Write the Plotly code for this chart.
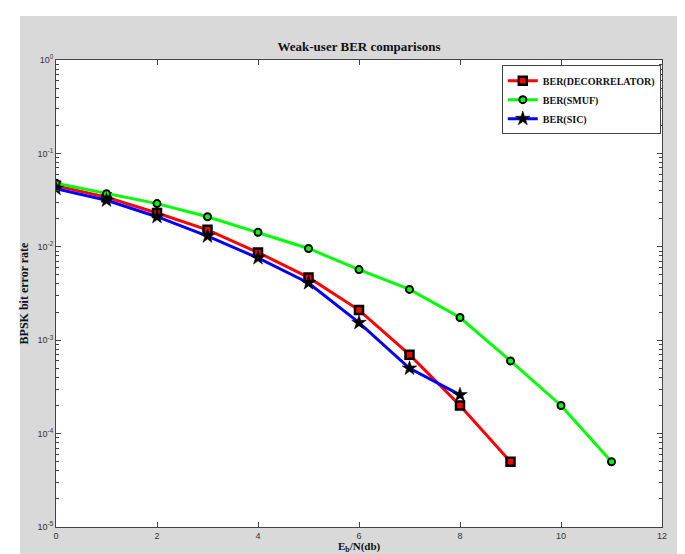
import plotly.graph_objects as go

# ---- data ----
snr_dec = [0, 1, 2, 3, 4, 5, 6, 7, 8, 9]
ber_dec = [0.045, 0.034, 0.023, 0.0152, 0.0087, 0.0047, 0.0021, 0.0007, 0.0002, 0.00005]

snr_smuf = [0, 1, 2, 3, 4, 5, 6, 7, 8, 9, 10, 11]
ber_smuf = [0.048, 0.037, 0.029, 0.021, 0.0143, 0.0096, 0.0057, 0.0035, 0.00175, 0.0006, 0.0002, 0.00005]

snr_sic = [0, 1, 2, 3, 4, 5, 6, 7, 8]
ber_sic = [0.042, 0.0315, 0.021, 0.013, 0.0076, 0.0041, 0.00154, 0.0005, 0.00026]

x_ticks = [0, 2, 4, 6, 8, 10, 12]
y_exps = [-5, -4, -3, -2, -1, 0]
y_ticks = [10.0 ** e for e in y_exps]
y_ticktext = ["10<sup>%d</sup>" % e for e in y_exps]
y_minor = [k * 10.0 ** e for e in range(-5, 0) for k in range(2, 10)]

fig = go.Figure()

fig.add_trace(go.Scatter(
    x=snr_dec, y=ber_dec, mode="lines+markers", name="<b>BER(DECORRELATOR)</b>",
    line=dict(color="#ff0000", width=3),
    marker=dict(symbol="square", size=8, color="#ff0000",
                line=dict(color="black", width=2.5)),
))
fig.add_trace(go.Scatter(
    x=snr_smuf, y=ber_smuf, mode="lines+markers", name="<b>BER(SMUF)</b>",
    line=dict(color="#00ff00", width=3),
    marker=dict(symbol="circle", size=7, color="#00ff00",
                line=dict(color="black", width=2)),
))
fig.add_trace(go.Scatter(
    x=snr_sic, y=ber_sic, mode="lines+markers", name="<b>BER(SIC)</b>",
    line=dict(color="#0000ff", width=3),
    marker=dict(symbol="star", size=11, color="black",
                line=dict(color="black", width=0.5)),
))

fig.update_layout(
    width=685, height=554,
    margin=dict(l=48, r=31, t=52, b=35, autoexpand=False),
    paper_bgcolor="white",
    plot_bgcolor="white",
    title=dict(text="<b>Weak-user BER comparisons</b>", x=0.5, xref="paper", xanchor="center",
               y=1 - 38 / 554, yref="container", yanchor="middle",
               font=dict(family="Liberation Serif", size=13, color="#111")),
    showlegend=True,
    legend=dict(x=0.998, xanchor="right", y=0.989, yanchor="top",
                bgcolor="white", bordercolor="#444", borderwidth=1,
                font=dict(family="Liberation Serif", size=10, color="#111"),
                tracegroupgap=0, itemwidth=30),
    shapes=[
        dict(type="rect", xref="paper", yref="paper", x0=-0.0594, x1=1.0413,
             y0=-0.08, y1=1.0942, fillcolor="#d9d9d9", line=dict(width=0), layer="below"),
        dict(type="rect", xref="paper", yref="paper", x0=0, x1=1, y0=0, y1=1,
             fillcolor="white", line=dict(width=0), layer="below"),
    ],
    annotations=[
        dict(text="<b>E<sub>b</sub>/N(db)</b>", xref="paper", yref="paper",
             x=0.5, y=(519 - 538.5) / 467, xanchor="center", yanchor="middle",
             showarrow=False, font=dict(family="Liberation Serif", size=11, color="#111")),
    ],
)

fig.update_xaxes(
    range=[0, 12], tickvals=x_ticks, ticks="inside", ticklen=5, tickcolor="#444",
    showline=True, linecolor="#444", linewidth=1, mirror="ticks",
    showgrid=False, zeroline=False,
    tickfont=dict(family="Liberation Sans", size=9, color="#333"),
)
fig.update_yaxes(
    type="log", range=[-5, 0], tickvals=y_ticks, ticktext=y_ticktext,
    ticks="inside", ticklen=5, tickcolor="#444",
    minor=dict(tickmode="array", tickvals=y_minor, ticks="inside", ticklen=3,
               tickcolor="#444", showgrid=False),
    showline=True, linecolor="#444", linewidth=1, mirror="ticks",
    showgrid=False, zeroline=False,
    tickfont=dict(family="Liberation Sans", size=9, color="#333"),
    title=dict(text="<b>BPSK bit error rate</b>", standoff=6,
               font=dict(family="Liberation Serif", size=12, color="#111")),
)

fig.write_html("out.html")
